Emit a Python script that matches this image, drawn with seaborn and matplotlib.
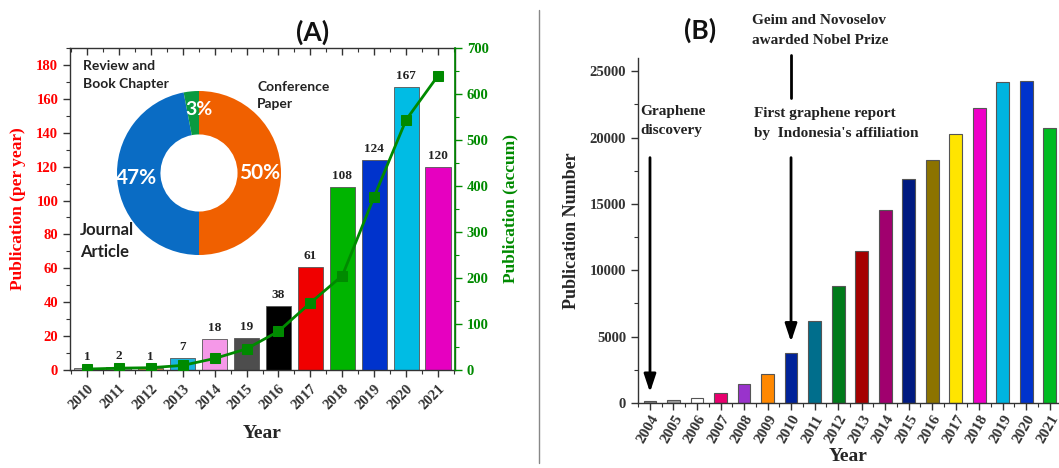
import numpy as np
import pandas as pd
import matplotlib
matplotlib.use("Agg")
import matplotlib.pyplot as plt
import seaborn as sns
from matplotlib.ticker import MultipleLocator
from matplotlib.lines import Line2D

# ---------------- data ----------------
years_a = ["2010", "2011", "2012", "2013", "2014", "2015", "2016", "2017", "2018", "2019", "2020", "2021"]
counts_a = [1, 2, 1, 7, 18, 19, 38, 61, 108, 124, 167, 120]
accum_a = [2, 4, 5, 10, 25, 46, 84, 146, 205, 377, 544, 640]
colors_a = ["#b0b0b0", "#909090", "#c88a40", "#1ab4e0", "#f598e8", "#4d4d4d",
            "#000000", "#f00000", "#00b400", "#0033cc", "#00bce4", "#e600c0"]

donut_labels = ["Conference\nPaper", "Journal\nArticle", "Review and\nBook Chapter"]
donut_pct = [50, 47, 3]
donut_colors = ["#f06000", "#0a6cc4", "#0a9a40"]

years_b = ["2004", "2005", "2006", "2007", "2008", "2009", "2010", "2011", "2012",
           "2013", "2014", "2015", "2016", "2017", "2018", "2019", "2020", "2021"]
counts_b = [150, 230, 350, 750, 1400, 2150, 3800, 6150, 8800, 11450, 14550,
            16850, 18300, 20250, 22250, 24200, 24250, 20750]
colors_b = ["#808080", "#a0a0a0", "#ffffff", "#e8006e", "#9933cc", "#ff8800",
            "#002299", "#006e8c", "#007a1a", "#a50000", "#a0006e", "#001a80",
            "#8c7300", "#ffe500", "#ee00c8", "#00b4e0", "#0033cc", "#00bb22"]

# ---------------- style ----------------
sns.set_theme(style="white")
plt.rcParams["font.family"] = ["Liberation Serif", "DejaVu Serif"]
plt.rcParams["font.weight"] = "bold"
plt.rcParams["axes.labelweight"] = "bold"

W, H = 1059, 468
fig = plt.figure(figsize=(W / 100, H / 100), dpi=100)

def fx(px):
    return px / W

def fy(py):
    return 1 - py / H

RED = "#ff0000"
GREEN = "#008a00"
SANS = ["Lato", "DejaVu Sans"]

# ================= Panel A =================
axA = fig.add_axes([fx(70), fy(370), fx(455) - fx(70), fy(48) - fy(370)])
dfa = pd.DataFrame({"year": years_a, "count": counts_a})
sns.barplot(data=dfa, x="year", y="count", hue="year", palette=colors_a,
            legend=False, ax=axA, width=0.79, edgecolor="#555555", linewidth=0.6,
            saturation=1)
axA.set_xlim(-0.53, len(years_a) - 0.47)
axA.set_ylim(0, 190)
axA.yaxis.set_major_locator(MultipleLocator(20))
axA.yaxis.set_minor_locator(MultipleLocator(10))
for i, v in enumerate(counts_a):
    axA.text(i, v + 3, str(v), ha="center", va="bottom", fontsize=9.5,
             fontweight="bold", color="#222222")
axA.set_xlabel("Year", fontsize=14)
axA.xaxis.set_label_coords(0.5, (370 - 433) / 322)
axA.xaxis.label.set_va("center")
axA.set_ylabel("Publication (per year)", fontsize=12.5, color=RED)
axA.yaxis.set_label_coords((18 - 70) / 385, 0.5)
axA.yaxis.label.set_va("center")
axA.tick_params(axis="y", which="major", direction="out", length=5, width=1,
                colors="#333333", labelcolor=RED, labelsize=10.5, left=True)
axA.tick_params(axis="y", which="minor", direction="out", length=3, width=0.8,
                colors="#333333", left=True)
axA.tick_params(axis="x", which="major", direction="out", length=5, width=1,
                colors="#333333", labelsize=10.5, bottom=True)
axA.xaxis.set_minor_locator(MultipleLocator(0.5))
axA.tick_params(axis="x", which="minor", direction="out", length=3, width=0.8,
                colors="#333333", bottom=True)
for lab in axA.get_xticklabels():
    lab.set_rotation(45)
    lab.set_ha("right")
    lab.set_rotation_mode("anchor")
    lab.set_fontweight("bold")
for lab in axA.get_yticklabels():
    lab.set_fontweight("bold")
for s in axA.spines.values():
    s.set_color("#333333")
    s.set_linewidth(1)
topx = axA.secondary_xaxis("top")
topx.set_xticks(np.arange(len(years_a)))
topx.xaxis.set_minor_locator(MultipleLocator(0.5))
topx.tick_params(axis="x", which="major", direction="in", length=5, width=1,
                 colors="#333333", labeltop=False)
topx.tick_params(axis="x", which="minor", direction="in", length=3, width=0.8,
                 colors="#333333")
topx.spines["top"].set_visible(False)

axA2 = axA.twinx()
sns.lineplot(x=np.arange(len(years_a)), y=accum_a, ax=axA2, color=GREEN,
             marker="s", markersize=6.5, markeredgecolor=GREEN, linewidth=2)
axA2.set_ylim(0, 700)
axA2.yaxis.set_major_locator(MultipleLocator(100))
axA2.yaxis.set_minor_locator(MultipleLocator(50))
axA2.tick_params(axis="y", which="major", direction="out", length=5, width=1,
                 colors=GREEN, labelsize=10.5, right=True)
axA2.tick_params(axis="y", which="minor", direction="out", length=3, width=0.8,
                 colors=GREEN, right=True)
axA2.spines["right"].set_color(GREEN)
axA2.spines["right"].set_linewidth(1.2)
for k in ["left", "top", "bottom"]:
    axA2.spines[k].set_visible(False)
axA2.set_ylabel("Publication (accum)", fontsize=12.5, color=GREEN)
axA2.yaxis.set_label_coords((510 - 70) / 385, 0.5)
axA2.yaxis.label.set_va("center")
for lab in axA2.get_yticklabels():
    lab.set_fontweight("bold")
axA2.grid(False)
axA.grid(False)

# donut inset
axD = fig.add_axes([fx(117), fy(255), fx(281) - fx(117), fy(91) - fy(255)])
axD.pie(donut_pct, colors=donut_colors, startangle=90, counterclock=False,
        radius=1.0, wedgeprops=dict(width=0.53, edgecolor="none"))
axD.set_xlim(-1.0, 1.0)
axD.set_ylim(-1.0, 1.0)
axD.set_aspect("equal")
axD.text(0.74, 0.0, f"{donut_pct[0]}%", ha="center", va="center", color="white",
         fontsize=15, fontweight="bold", family=SANS)
axD.text(-0.76, -0.06, f"{donut_pct[1]}%", ha="center", va="center", color="white",
         fontsize=15, fontweight="bold", family=SANS)
axD.text(0.0, 0.78, f"{donut_pct[2]}%", ha="center", va="center", color="white",
         fontsize=14, fontweight="bold", family=SANS)
fig.text(fx(257), fy(96), donut_labels[0], ha="left", va="center", fontsize=10,
         fontweight="bold", family=SANS, color="#222222", linespacing=1.5)
fig.text(fx(80), fy(241), donut_labels[1], ha="left", va="center", fontsize=12,
         fontweight="bold", family=SANS, color="#222222", linespacing=1.4)
fig.text(fx(83), fy(75), donut_labels[2], ha="left", va="center", fontsize=10,
         fontweight="bold", family=SANS, color="#222222", linespacing=1.5)

fig.text(fx(313), fy(32), "(A)", ha="center", va="center", fontsize=19,
         fontweight="bold", family=SANS, color="#111111")

# ================= Panel B =================
axB = fig.add_axes([fx(638), fy(403), fx(1059) - fx(638), fy(58) - fy(403)])
dfb = pd.DataFrame({"year": years_b, "count": counts_b})
sns.barplot(data=dfb, x="year", y="count", hue="year", palette=colors_b,
            legend=False, ax=axB, width=0.55, edgecolor="#555555", linewidth=0.8,
            saturation=1)
axB.set_xlim(-0.51, 17.4)
axB.set_ylim(0, 26000)
axB.yaxis.set_major_locator(MultipleLocator(5000))
axB.yaxis.set_minor_locator(MultipleLocator(2500))
axB.xaxis.set_minor_locator(MultipleLocator(0.5))
axB.tick_params(axis="y", which="major", direction="out", length=5, width=1,
                colors="#333333", labelsize=10.5, left=True)
axB.tick_params(axis="y", which="minor", direction="out", length=3, width=0.8,
                colors="#333333", left=True)
axB.tick_params(axis="x", which="major", direction="out", length=5, width=1,
                colors="#333333", labelsize=11, bottom=True, pad=2)
axB.tick_params(axis="x", which="minor", direction="out", length=3, width=0.8,
                colors="#333333", bottom=True)
for lab in axB.get_xticklabels():
    lab.set_rotation(60)
    lab.set_ha("right")
    lab.set_rotation_mode("anchor")
    lab.set_fontweight("bold")
for lab in axB.get_yticklabels():
    lab.set_fontweight("bold")
for k in ["top", "right"]:
    axB.spines[k].set_visible(False)
for k in ["left", "bottom"]:
    axB.spines[k].set_color("#333333")
    axB.spines[k].set_linewidth(1)
axB.set_xlabel("Year", fontsize=14)
axB.xaxis.set_label_coords((848 - 638) / 421, (403 - 456) / 345)
axB.xaxis.label.set_va("center")
axB.set_ylabel("Publication Number", fontsize=13)
axB.yaxis.set_label_coords((572 - 638) / 421, 0.5)
axB.yaxis.label.set_va("center")
axB.grid(False)

arrow_kw = dict(arrowstyle="-|>,head_length=0.9,head_width=0.3", color="black", lw=2)
axB.annotate("", xy=(0, 600), xytext=(0, 18700), arrowprops=arrow_kw,
             annotation_clip=False)
axB.annotate("", xy=(6, 4400), xytext=(6, 18700), arrowprops=arrow_kw,
             annotation_clip=False)
axB.add_line(Line2D([6, 6], [23000, 26200], color="black", lw=2, clip_on=False))

fig.text(fx(640), fy(121), "Graphene\ndiscovery", ha="left", va="center",
         fontsize=11, fontweight="bold", linespacing=1.6, color="#222222")
fig.text(fx(754), fy(123), "First graphene report\nby  Indonesia's affiliation",
         ha="left", va="center", fontsize=11, fontweight="bold", linespacing=1.7,
         color="#222222")
fig.text(fx(752), fy(30), "Geim and Novoselov\nawarded Nobel Prize",
         ha="left", va="center", fontsize=11, fontweight="bold", linespacing=1.7,
         color="#222222")
fig.text(fx(700), fy(30), "(B)", ha="center", va="center", fontsize=19,
         fontweight="bold", family=SANS, color="#111111")

# divider
fig.add_artist(Line2D([fx(539), fx(539)], [fy(10), fy(463)], color="#888888", lw=1))

fig.savefig("out.png", dpi=100)
